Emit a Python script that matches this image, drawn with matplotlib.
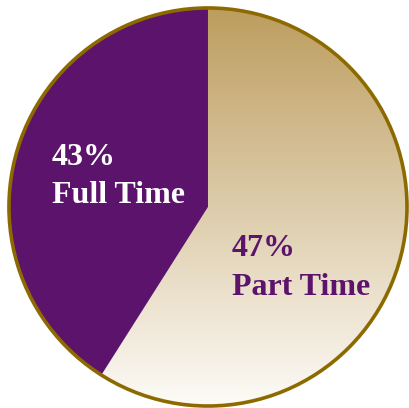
import numpy as np
import matplotlib
matplotlib.use("Agg")
import matplotlib.pyplot as plt
from matplotlib.colors import LinearSegmentedColormap

# slice sizes (the printed labels are kept as shown)
categories = ["Full Time", "Part Time"]
shares = [41, 59]
pct_labels = ["43%", "47%"]

purple = "#5c136b"
gold_top = "#bd9d5e"
gold_bottom = "#fdfbf7"
rim = "#8c6a00"

fig = plt.figure(figsize=(4.09, 4.08), dpi=100)
ax = fig.add_axes([0, 0, 1, 1])

# full time is drawn counterclockwise from 12 o'clock, part time takes the rest
wedges, _ = ax.pie(shares, startangle=90, counterclock=True, radius=1.0,
                   colors=[purple, "none"], wedgeprops=dict(linewidth=0))

cmap = LinearSegmentedColormap.from_list("gold", [gold_top, gold_bottom])
grad = np.linspace(0, 1, 256).reshape(-1, 1)
img = ax.imshow(grad, cmap=cmap, extent=(-1, 1, -1, 1), origin="upper",
                aspect="auto", zorder=0.5)
img.set_clip_path(wedges[1])

rim_circle = plt.Circle((0, 0), 1.0, fill=False, edgecolor=rim, linewidth=2.6, zorder=3)
ax.add_patch(rim_circle)

# pie() resets the view, so fix the limits afterwards
ax.set_xlim(-1.045, 1.01)
ax.set_ylim(-1.01, 1.04)
ax.set_aspect("equal")
ax.axis("off")

font = dict(family="Liberation Serif", fontweight="bold", fontsize=23)
ax.text(-0.785, 0.21, pct_labels[0], color="white", ha="left", va="baseline", **font)
ax.text(-0.785, 0.02, categories[0], color="white", ha="left", va="baseline", **font)
ax.text(0.12, -0.245, pct_labels[1], color=purple, ha="left", va="baseline", **font)
ax.text(0.12, -0.44, categories[1], color=purple, ha="left", va="baseline", **font)

fig.savefig("out.png", dpi=100)
